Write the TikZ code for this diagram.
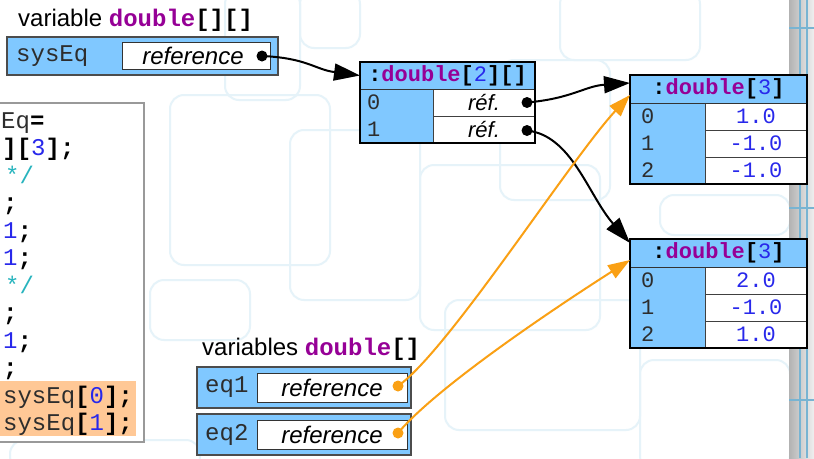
\documentclass[tikz,border=0pt]{standalone}
\usepackage{fontspec}
\setmainfont{Liberation Sans}
\setmonofont{Liberation Mono}
\usetikzlibrary{arrows.meta,calc}
\definecolor{boxblue}{RGB}{128,200,255}
\definecolor{kwpurple}{RGB}{150,0,150}
\definecolor{numblue}{RGB}{40,40,235}
\definecolor{cmtteal}{RGB}{40,180,190}
\definecolor{idgray}{RGB}{45,45,45}
\definecolor{hlorange}{RGB}{255,200,150}
\definecolor{arrorange}{RGB}{250,160,20}
\definecolor{bgline}{RGB}{230,243,249}
\definecolor{stripline}{RGB}{120,180,210}
\newcommand{\bigsz}{\fontsize{24}{28}\selectfont}
\newcommand{\midsz}{\fontsize{22}{26}\selectfont}
\newcommand{\kw}[1]{{\ttfamily\bfseries\color{kwpurple}#1}}
\newcommand{\bk}[1]{{\ttfamily\bfseries\color{black}#1}}
\newcommand{\nm}[1]{{\ttfamily\color{numblue}#1}}
\begin{document}
\begin{tikzpicture}[x=1pt,y=-1pt,
  varbox/.style={draw=black!70, fill=boxblue, line width=1.2pt, anchor=north west, inner sep=0pt, outer sep=0pt},
  refbox/.style={draw=black!80, fill=white, line width=1pt, anchor=north west, inner sep=0pt, outer sep=0pt, font=\bigsz\itshape},
  arrfill/.style={fill=boxblue, anchor=north west, inner sep=0pt, outer sep=0pt, minimum width=177pt, minimum height=109pt},
  arrborder/.style={draw=black, line width=2pt},
  hdr/.style={anchor=north west, inner sep=0pt, outer sep=0pt, font=\midsz\ttfamily},
  cell/.style={draw=black!75, fill=white, line width=1pt, anchor=north west, inner sep=0pt, outer sep=0pt, minimum width=102pt, minimum height=27pt, font=\midsz\ttfamily\color{numblue}},
  idx/.style={anchor=west, inner sep=0pt, font=\midsz\ttfamily\color{idgray}},
  vlabel/.style={anchor=west, inner sep=0pt, font=\bigsz\ttfamily\color{idgray}},
  title/.style={anchor=base west, inner sep=0pt, font=\bigsz},
  code/.style={anchor=base west, inner sep=0pt, font=\bigsz\ttfamily\color{idgray}},
  bdot/.style={circle, fill=black, inner sep=0pt, minimum size=11pt},
  odot/.style={circle, fill=arrorange, inner sep=0pt, minimum size=11pt},
  refarrow/.style={draw=black, line width=2pt, -{Triangle[length=26pt,width=17pt]}},
  orarrow/.style={draw=arrorange, line width=2pt, -{Triangle[length=22pt,width=15pt]}},
  deco/.style={draw=bgline, line width=2pt, rounded corners=14pt}
]
\useasboundingbox (0,0) rectangle (814,458);
\fill[white] (0,0) rectangle (814,458);

% faint background pattern
\draw[deco] (225,-10) rectangle (300,100);
\draw[deco] (170,95) rectangle (330,265);
\draw[deco] (290,130) rectangle (420,300);
\draw[deco] (420,165) rectangle (600,330);
\draw[deco] (445,300) rectangle (640,430);
\draw[deco] (640,360) rectangle (790,470);
\draw[deco] (300,-10) rectangle (360,48);
\draw[deco] (560,-10) rectangle (700,60);
\draw[deco] (660,195) rectangle (790,235);
\draw[deco] (150,280) rectangle (250,340);
\draw[deco] (500,60) rectangle (610,200);
\draw[deco] (10,440) rectangle (200,470);

% right strip
\shade[left color=black!30, right color=black!6] (789,0) rectangle (814,458);
\draw[stripline, line width=1.5pt] (800,0) -- (800,458);
\draw[stripline, line width=1.5pt] (807,0) -- (807,458);
\draw[stripline, line width=1.2pt] (789,28) -- (814,28);
\draw[stripline, line width=1.2pt] (789,208) -- (814,208);
\draw[stripline, line width=1.2pt] (789,400) -- (814,400);

% code panel
\node[draw=black!40, fill=white, line width=1.5pt, anchor=north west, inner sep=0pt, minimum width=150pt, minimum height=339pt] (panel) at (-7,102) {};
\node[fill=hlorange, anchor=north west, inner sep=0pt, minimum width=141pt, minimum height=55pt] (hl) at (-5,381) {};
\node[code] (c1) at (-13.4,128) {sEq\bk{=}};
\node[code] (c2) at (2.2,155.5) {\bk{][}\nm{3}\bk{];}};
\node[code] (c3) at (5,183) {\color{cmtteal}*/};
\node[code] (c4) at (3,210.5) {\bk{;}};
\node[code] (c5) at (-11.4,238) {\nm{-1}\bk{;}};
\node[code] (c6) at (-11.4,265.5) {\nm{-1}\bk{;}};
\node[code] (c7) at (5,293) {\color{cmtteal}*/};
\node[code] (c8) at (3,320.5) {\bk{;}};
\node[code] (c9) at (-11.4,348) {\nm{-1}\bk{;}};
\node[code] (c10) at (3,375.5) {\bk{;}};
\node[code] (c11) at (3,403) {sysEq\bk{[}\nm{0}\bk{];}};
\node[code] (c12) at (3,430.5) {sysEq\bk{[}\nm{1}\bk{];}};

% title 1 and sysEq variable
\node[title] (t1) at (18,26) {variable \kw{double}\bk{[][]}};
\node[varbox, minimum width=271pt, minimum height=38pt] (sysbox) at (7,37) {};
\node[vlabel] (syslbl) at (16,56) {sysEq};
\node[refbox, minimum width=148pt, minimum height=27pt] (sysref) at (122,42) {reference\hspace*{6pt}};
\node[bdot] (dsys) at (262,56) {};

% array A: double[2][]
\node[arrfill, minimum width=175pt, minimum height=81pt] (arrA) at (360,62) {};
\node[hdr, minimum width=175pt, minimum height=27pt] (hdrA) at (360,62) {\bk{:}\kw{double}\bk{[}\nm{2}\bk{][]}};
\node[cell, font=\midsz\itshape] (a0) at (433,89) {réf.};
\node[cell, font=\midsz\itshape] (a1) at (433,116) {réf.};
\node[idx] (ia0) at (367,102.5) {0};
\node[idx] (ia1) at (367,129.5) {1};
\draw[black!80, line width=1pt] (hdrA.south west) -- (hdrA.south east);
\draw[arrborder] (arrA.north west) rectangle (arrA.south east);
\node[bdot] (da0) at (527,102.5) {};
\node[bdot] (da1) at (527,130.5) {};

% array B: double[3]
\node[arrfill] (arrB) at (630,75) {};
\node[hdr, minimum width=177pt, minimum height=28pt] (hdrB) at (630,75) {\bk{:}\kw{double}\bk{[}\nm{3}\bk{]}};
\node[cell] (b0) at (705,103) {1.0};
\node[cell] (b1) at (705,130) {-1.0};
\node[cell] (b2) at (705,157) {-1.0};
\node[idx] (ib0) at (641,116.5) {0};
\node[idx] (ib1) at (641,143.5) {1};
\node[idx] (ib2) at (641,170.5) {2};
\draw[black!80, line width=1pt] (hdrB.south west) -- (hdrB.south east);
\draw[arrborder] (arrB.north west) rectangle (arrB.south east);

% array C: double[3]
\node[arrfill] (arrC) at (630,239) {};
\node[hdr, minimum width=177pt, minimum height=28pt] (hdrC) at (630,239) {\bk{:}\kw{double}\bk{[}\nm{3}\bk{]}};
\node[cell] (cc0) at (705,267) {2.0};
\node[cell] (cc1) at (705,294) {-1.0};
\node[cell] (cc2) at (705,321) {1.0};
\node[idx] (ic0) at (641,280.5) {0};
\node[idx] (ic1) at (641,307.5) {1};
\node[idx] (ic2) at (641,334.5) {2};
\draw[black!80, line width=1pt] (hdrC.south west) -- (hdrC.south east);
\draw[arrborder] (arrC.north west) rectangle (arrC.south east);

% title 2 and eq variables
\node[title] (t2) at (202,355) {variables \kw{double}\bk{[]}};
\node[varbox, minimum width=214pt, minimum height=41pt] (eq1box) at (197,367) {};
\node[vlabel] (eq1lbl) at (205,387.5) {eq1};
\node[refbox, minimum width=150pt, minimum height=29pt] (eq1ref) at (257,373) {reference\hspace*{0pt}};
\node[odot] (de1) at (398,386) {};
\node[varbox, minimum width=214pt, minimum height=41pt] (eq2box) at (197,414) {};
\node[vlabel] (eq2lbl) at (205,434.5) {eq2};
\node[refbox, minimum width=150pt, minimum height=29pt] (eq2ref) at (257,420) {reference\hspace*{0pt}};
\node[odot] (de2) at (398,433) {};

% connectors
\draw[refarrow] (dsys.center) .. controls +(45,2) and +(-45,-6) .. (hdrA.west);
\draw[refarrow] (da0.center) .. controls +(45,-4) and +(-45,3) .. ($(hdrB.west)+(0,-6)$);
\draw[refarrow] (da1.center) .. controls +(45,5) and +(-42,-48) .. ($(hdrC.west)+(0,-10)$);
\draw[orarrow] (de1.center) .. controls +(50,-35) and +(-60,65) .. ($(hdrB.west)+(0,6)$);
\draw[orarrow] (de2.center) .. controls +(42,-50) and +(-55,35) .. ($(hdrC.west)+(0,7)$);
\end{tikzpicture}
\end{document}
